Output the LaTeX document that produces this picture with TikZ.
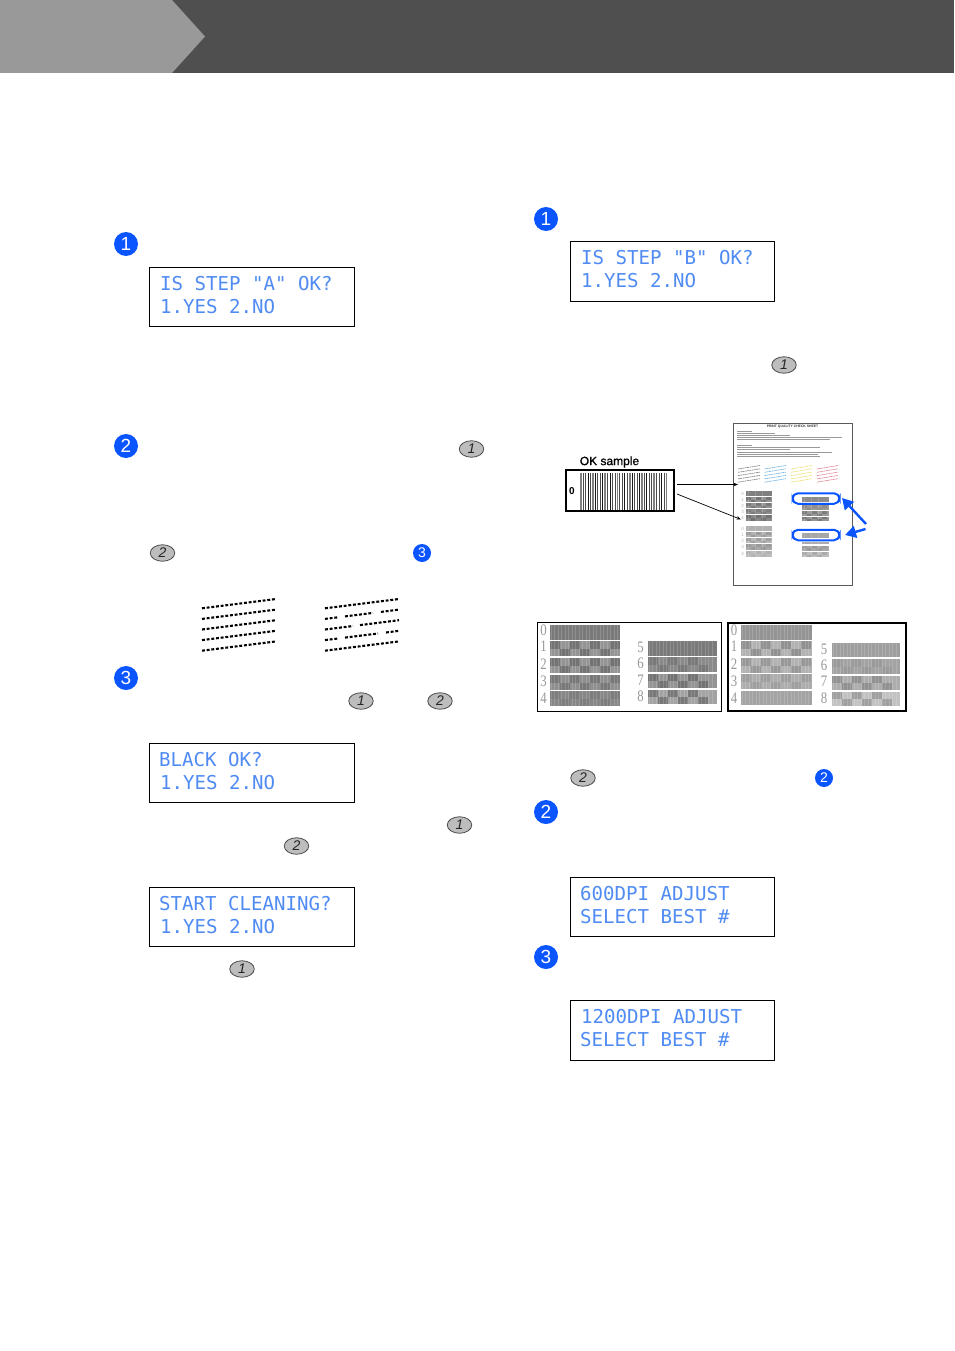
\documentclass[tikz,border=0pt]{standalone}
\usepackage{fontspec}
\setmainfont{Liberation Sans}
\newfontfamily\lcdfont{DejaVu Sans Mono}
\newfontfamily\digfont{Liberation Serif}
\usetikzlibrary{arrows.meta,shapes.geometric}
\definecolor{bandgray}{HTML}{4F4F4F}
\definecolor{tabgray}{HTML}{999999}
\definecolor{markblue}{HTML}{0A55FF}
\definecolor{lcdblue}{HTML}{4F8BF2}
\definecolor{keygray}{HTML}{BDBDBD}
\definecolor{inkblue}{HTML}{6DB0E0}
\definecolor{inkyellow}{HTML}{F0E070}
\definecolor{inkred}{HTML}{E08090}
\tikzset{
  x=1pt,y=-1pt,
  lcdbox/.style={draw=black,line width=0.9pt,fill=white},
  lcdtext/.style={inner sep=0pt,anchor=base west,text=lcdblue,font=\lcdfont\fontsize{19.1}{19.1}\selectfont},
  bignum/.style={circle,fill=markblue,text=white,minimum size=24pt,inner sep=0pt,font=\fontsize{19}{19}\selectfont},
  smallnum/.style={circle,fill=markblue,text=white,minimum size=18pt,inner sep=0pt,font=\fontsize{14}{14}\selectfont},
  keybtn/.style={ellipse,draw=black!70,line width=0.8pt,fill=keygray,minimum width=24.5pt,minimum height=16.5pt,inner sep=0pt,text=black!85,font=\itshape\fontsize{14}{14}\selectfont},
  smpbox/.style={draw=black,fill=white},
  dig/.style={inner sep=0pt,text=black!40,font=\digfont\fontsize{16}{16}\selectfont,xscale=0.8},
  sheetdig/.style={inner sep=0pt,text=black!30,font=\fontsize{4.5}{4.5}\selectfont},
  dotline/.style={line width=2.1pt,draw=black,dash pattern=on 2.9pt off 1.8pt},
  ovalmark/.style={draw=markblue,line width=2pt,rounded corners=5.5pt},
  bluearrow/.style={draw=markblue,line width=2.4pt,-{Triangle[length=11pt,width=12pt]}},
  thinarrow/.style={draw=black,line width=0.7pt,-{Stealth[length=4.5pt,width=3.5pt]}},
}
% #1 x0, #2 y0, #3 x1, #4 y1, #5 base grey %, #6 checker strength %, #7 cell width, #8 stripe step
\newcommand{\swatch}[8]{%
  \fill[black!#5] (#1,#2) rectangle (#3,#4);
  \pgfmathsetmacro{\midy}{(#2+#4)/2}
  \pgfmathtruncatemacro{\ncell}{floor((#3-#1)/#7)-1}
  \foreach \i in {0,...,\ncell}{
    \pgfmathsetmacro{\cxa}{#1+\i*#7}
    \pgfmathsetmacro{\cxb}{min(#1+(\i+1)*#7,#3)}
    \pgfmathtruncatemacro{\odd}{mod(\i,2)}
    \ifnum\odd=0
      \fill[black,opacity=#6/100] (\cxa,#2) rectangle (\cxb,\midy);
    \else
      \fill[black,opacity=#6/100] (\cxa,\midy) rectangle (\cxb,#4);
    \fi
  }
  \pgfmathtruncatemacro{\nstr}{floor((#3-#1)/#8)-1}
  \foreach \i in {0,...,\nstr}{
    \pgfmathsetmacro{\sx}{#1+(\i+0.4)*#8}
    \draw[white,opacity=0.16,line width=1pt] (\sx,#2) -- (\sx,#4);
  }
}
\newcommand{\inkgroup}[3]{% x0, x1, colour
  \foreach \k in {0,1,2,3,4}{
    \draw[#3,line width=0.6pt,dash pattern=on 1.8pt off 0.5pt] (#1,469+\k*3.3) -- (#2,465.5+\k*3.3);
  }
}
\begin{document}
\begin{tikzpicture}
\useasboundingbox (0,0) rectangle (954,1351);
\fill[white] (0,0) rectangle (954,1351);
% header
\fill[bandgray] (0,0) rectangle (954,73);
\fill[tabgray] (0,0) -- (172,0) -- (205,36.5) -- (172,73) -- (0,73) -- cycle;
% LCD boxes
\draw[lcdbox] (149.5,267.5) rectangle (354.5,326.5);
\node[lcdtext] (a1) at (160,290) {IS STEP "A" OK?};
\node[lcdtext] (a2) at (160,313) {1.YES 2.NO};
\draw[lcdbox] (570.5,241.5) rectangle (774.5,301.5);
\node[lcdtext] (b1) at (581,264) {IS STEP "B" OK?};
\node[lcdtext] (b2) at (581,287) {1.YES 2.NO};
\draw[lcdbox] (149.5,743.5) rectangle (354.5,802.5);
\node[lcdtext] (c1) at (159,766) {BLACK OK?};
\node[lcdtext] (c2) at (160,789) {1.YES 2.NO};
\draw[lcdbox] (149.5,887.5) rectangle (354.5,946.5);
\node[lcdtext] (d1) at (159,910) {START CLEANING?};
\node[lcdtext] (d2) at (160,933) {1.YES 2.NO};
\draw[lcdbox] (570.5,877.5) rectangle (774.5,936.5);
\node[lcdtext] (e1) at (580,900) {600DPI ADJUST};
\node[lcdtext] (e2) at (580,923) {SELECT BEST \#};
\draw[lcdbox] (570.5,1000.5) rectangle (774.5,1060.5);
\node[lcdtext] (f1) at (581,1023) {1200DPI ADJUST};
\node[lcdtext] (f2) at (580,1046) {SELECT BEST \#};
% step marks
\node[bignum] (m1) at (126,244) {1};
\node[bignum] (m2) at (126,446) {2};
\node[bignum] (m3) at (126,678) {3};
\node[bignum] (m4) at (546,219) {1};
\node[bignum] (m5) at (546,812) {2};
\node[bignum] (m6) at (546,957) {3};
\node[smallnum] (s1) at (422,553) {3};
\node[smallnum] (s2) at (824,778) {2};
% keys
\node[keybtn] (k1) at (471.5,449) {1};
\node[keybtn] (k2) at (162.5,553) {2};
\node[keybtn] (k3) at (361,701) {1};
\node[keybtn] (k4) at (440,701) {2};
\node[keybtn] (k5) at (459.5,825) {1};
\node[keybtn] (k6) at (296.5,846) {2};
\node[keybtn] (k7) at (242,969) {1};
\node[keybtn] (k8) at (784,365) {1};
\node[keybtn] (k9) at (583,778) {2};
% dotted patterns, good
\foreach \k in {0,1,2,3,4}{
  \draw[dotline] (202,608.3+\k*10.6) -- (276,599+\k*10.6);
}
% dotted patterns, with gaps
\draw[dotline] (325,608.3) -- (399,599);
\draw[dotline] (325,618.9) -- (338,617.3);
\draw[dotline] (345,616.4) -- (373,612.9);
\draw[dotline] (381,611.9) -- (399,609.6);
\draw[dotline] (325,629.5) -- (353,626);
\draw[dotline] (360,625.1) -- (399,620.2);
\draw[dotline] (325,640.1) -- (338,638.5);
\draw[dotline] (345,637.6) -- (378,633.5);
\draw[dotline] (386,632.5) -- (399,630.8);
\draw[dotline] (325,650.7) -- (399,641.4);
% OK sample
\node[inner sep=0pt,font=\fontsize{12}{12}\selectfont,text=black,preaction={}] (oklabel) at (609.5,462) {\addfontfeatures{FakeBold=1.2}OK sample};
\node[smpbox,line width=2.3pt,minimum width=108.5pt,minimum height=41.5pt,inner sep=0pt] (okbox) at (620,490.5) {};
\node[inner sep=0pt,font=\bfseries\fontsize{10}{10}\selectfont] (okzero) at (572,491.5) {0};
\foreach \i in {0,...,35}{
  \pgfmathsetmacro{\bx}{580.7+\i*2.45}
  \pgfmathtruncatemacro{\tone}{mod(\i*7,5)==0 ? 50 : (mod(\i,3)==0 ? 90 : 70)}
  \pgfmathsetmacro{\bw}{mod(\i*7,5)==0 ? 1.7 : 1.0}
  \draw[black!\tone,line width=\bw pt] (\bx,473) -- (\bx,510);
}
% quality sheet
\node[draw=black!65,line width=0.7pt,fill=white,minimum width=119pt,minimum height=162pt,inner sep=0pt] (sheet) at (793,504) {};
\node[inner sep=0pt,text=black!80,font=\bfseries\fontsize{3.4}{3.4}\selectfont] (sheettitle) at (792.5,426.3) {PRINT QUALITY CHECK SHEET};
\begin{scope}[black!40,line width=0.6pt]
  \draw (737,431.5) -- (752,431.5);
  \draw (737,433.5) -- (775,433.5);
  \draw (737,435.5) -- (790,435.5);
  \draw (737,437.5) -- (842,437.5);
  \draw (737,439.5) -- (830,439.5);
  \draw (737,445) -- (752,445);
  \draw (737,447.5) -- (820,447.5);
  \draw (737,449.5) -- (790,449.5);
  \draw (737,452) -- (832,452);
  \draw (737,454) -- (818,454);
  \draw (737,456.5) -- (820,456.5);
\end{scope}
\inkgroup{738}{760}{black!50}
\inkgroup{764.5}{786}{inkblue}
\inkgroup{791}{812}{inkyellow}
\inkgroup{817}{838}{inkred}
% sheet swatches
\swatch{745.5}{491}{772}{496}{50}{0}{9}{7}
\swatch{745.5}{497}{772}{502}{42}{20}{5}{7}
\swatch{745.5}{503}{772}{508}{42}{18}{5}{7}
\swatch{745.5}{509}{772}{514}{45}{10}{5}{7}
\swatch{745.5}{515}{772}{521}{47}{15}{5}{7}
\swatch{745.5}{526}{772}{531}{30}{0}{9}{7}
\swatch{745.5}{532}{772}{537}{30}{12}{5}{7}
\swatch{745.5}{538}{772}{543}{28}{12}{5}{7}
\swatch{745.5}{544}{772}{550}{34}{8}{5}{7}
\swatch{745.5}{551}{772}{557}{26}{5}{5}{7}
\swatch{802}{497}{829}{501.5}{45}{0}{9}{7}
\swatch{802}{505}{829}{510}{40}{8}{5}{7}
\swatch{802}{511}{829}{516}{40}{18}{5}{7}
\swatch{802}{517}{829}{521}{42}{18}{5}{7}
\swatch{802}{533}{829}{537.5}{35}{0}{9}{7}
\swatch{802}{542}{829}{544}{32}{0}{9}{7}
\swatch{802}{545.5}{829}{550.5}{34}{8}{5}{7}
\swatch{802}{552}{829}{557}{26}{10}{5}{7}
\foreach \d/\yy in {0/493.5,1/499.5,2/505.5,3/511.5,4/518,0/528.5,1/534.5,2/540.5,3/547,4/554}{
  \node[sheetdig] at (742.5,\yy) {\d};
}
% blue ovals
\node[draw=markblue,line width=2pt,rounded corners=5.5pt,minimum width=47pt,minimum height=10.5pt,inner sep=0pt] (ov1) at (816,498.5) {};
\node[draw=markblue,line width=2pt,rounded corners=5.5pt,minimum width=47pt,minimum height=10.5pt,inner sep=0pt] (ov2) at (816,535) {};
\coordinate (fromA) at (866,524);
\coordinate (fromB) at (865.5,529);
\coordinate (toA) at (842,498);
\coordinate (toB) at (845,535);
\draw[bluearrow] (fromA) -- (toA);
\draw[bluearrow] (fromB) -- (toB);
% arrows from sample
\coordinate (okA) at (677,484.5);
\coordinate (okB) at (677,494);
\coordinate (shA) at (738,484.5);
\coordinate (shB) at (741,519.5);
\draw[thinarrow] (okA) -- (shA);
\draw[thinarrow] (okB) -- (shB);
% comparison boxes
\node[smpbox,line width=1.7pt,minimum width=184pt,minimum height=89pt,inner sep=0pt] (leftbox) at (629.5,667) {};
\node[smpbox,line width=2pt,minimum width=178.5pt,minimum height=88.5pt,inner sep=0pt] (rightbox) at (816.8,667) {};
\swatch{550}{625}{620}{640}{52}{0}{9}{3.5}
\swatch{550}{641}{620}{656}{42}{22}{10}{3.5}
\swatch{550}{658}{620}{673}{42}{22}{10}{3.5}
\swatch{550}{675}{620}{690}{44}{16}{10}{3.5}
\swatch{550}{691}{620}{706}{47}{7}{10}{3.5}
\swatch{648}{641}{717}{656}{52}{0}{9}{3.5}
\swatch{648}{657}{717}{672}{46}{12}{10}{3.5}
\swatch{648}{674}{717}{688}{42}{22}{10}{3.5}
\swatch{648}{690}{717}{704}{36}{26}{10}{3.5}
\swatch{741}{625}{812}{640}{42}{0}{9}{3.5}
\swatch{741}{641}{812}{656}{30}{18}{10}{3.5}
\swatch{741}{658}{812}{673}{30}{14}{10}{3.5}
\swatch{741}{674}{812}{689}{32}{8}{10}{3.5}
\swatch{741}{691}{812}{705}{36}{0}{10}{3.5}
\swatch{832}{643}{900}{657}{38}{0}{9}{3.5}
\swatch{832}{659}{900}{674}{36}{5}{10}{3.5}
\swatch{832}{676}{900}{690}{32}{16}{10}{3.5}
\swatch{832}{692}{900}{706}{24}{18}{10}{3.5}
\foreach \d/\yy in {0/630,1/646,2/664,3/681,4/698}{
  \node[dig] at (543.5,\yy) {\d};
  \node[dig] at (734,\yy) {\d};
}
\foreach \d/\yy in {5/647,6/663,7/680,8/696}{
  \node[dig] at (640.5,\yy) {\d};
}
\foreach \d/\yy in {5/649,6/665,7/681,8/698}{
  \node[dig] at (824,\yy) {\d};
}
\end{tikzpicture}
\end{document}
